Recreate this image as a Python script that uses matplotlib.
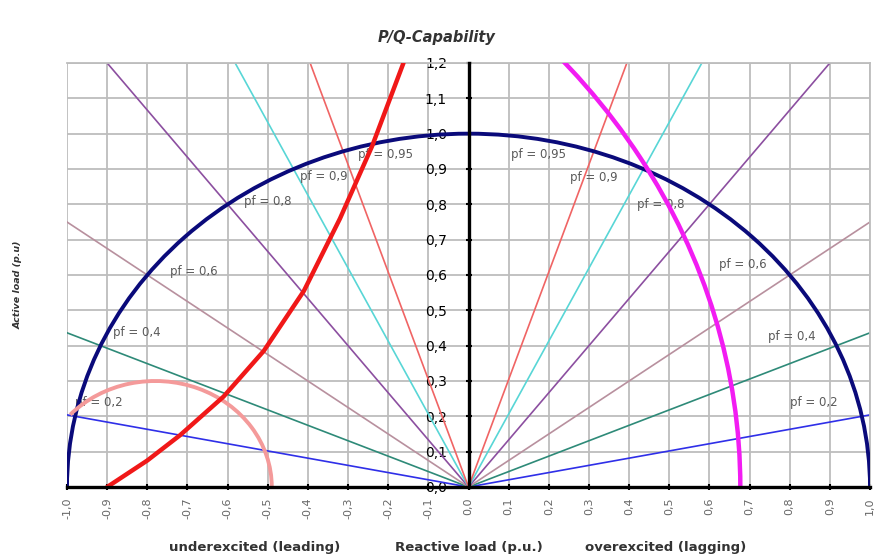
import numpy as np
import matplotlib
matplotlib.use("Agg")
import matplotlib.pyplot as plt
from matplotlib.patches import Arc

plt.rcParams['font.family'] = ['DejaVu Sans']

# power-factor lines (one on each side of the P axis)
pf_values = [0.2, 0.4, 0.6, 0.8, 0.9, 0.95]
pf_colors = ['#2f2fe8', '#2e8a78', '#b8909e', '#8c4fa0', '#58d6d6', '#f06464']
pf_texts = ['pf = 0,2', 'pf = 0,4', 'pf = 0,6', 'pf = 0,8', 'pf = 0,9', 'pf = 0,95']
# label anchors (Q, P) for the underexcited and overexcited side
pf_label_left = [(-0.98, 0.24), (-0.885, 0.436), (-0.743, 0.609), (-0.56, 0.807), (-0.42, 0.878), (-0.274, 0.94)]
pf_label_right = [(0.80, 0.24), (0.745, 0.425), (0.623, 0.629), (0.42, 0.80), (0.254, 0.875), (0.105, 0.94)]

# stator current limit (rated apparent power)
stator_radius = 1.0
# rotor (field) current limit, circle centred on the Q axis
rotor_center_q = -1.19
rotor_radius = 1.867
# minimum excitation limit
minexc_center_q = -0.78
minexc_width = 0.58
minexc_height = 0.60
minexc_end_deg = 136
# practical stability limit
stab_q = [-0.90, -0.80, -0.718, -0.61, -0.51, -0.41, -0.32, -0.24, -0.162]
stab_p = [0.0, 0.075, 0.147, 0.256, 0.385, 0.555, 0.76, 0.965, 1.2]

q_ticks = np.round(np.arange(-10, 11) / 10, 1)
p_ticks = np.round(np.arange(0, 13) / 10, 1)
q_ticklabels = [f"{v:.1f}".replace('.', ',').replace('-0,0', '0,0') for v in q_ticks]
p_ticklabels = [f"{v:.1f}".replace('.', ',') for v in p_ticks]

fig = plt.figure(figsize=(8.76, 5.58), dpi=100)
ax = fig.add_axes([67 / 876, 1 - 487 / 558, (870 - 67) / 876, (487 - 63) / 558])
ax.set_xlim(-1.0, 1.0)
ax.set_ylim(0.0, 1.2)

ax.set_xticks(q_ticks)
ax.set_xticklabels(q_ticklabels, rotation=90, fontsize=8, color='#666666')
ax.set_yticks(p_ticks)
ax.set_yticklabels(p_ticklabels, fontsize=7.5, color='#666666')
ax.grid(True, color='#bdbdbd', linewidth=1.3, zorder=0)
ax.set_axisbelow(True)

ax.spines['left'].set_position(('data', 0))
ax.spines['left'].set_linewidth(2.4)
ax.spines['left'].set_zorder(6)
ax.spines['bottom'].set_linewidth(2.4)
ax.spines['bottom'].set_zorder(6)
for s in ('top', 'right'):
    ax.spines[s].set_color('#bdbdbd')
    ax.spines[s].set_linewidth(1.3)
ax.tick_params(axis='x', direction='inout', length=5, width=1.5, pad=5)
ax.tick_params(axis='y', direction='inout', length=5, width=1.5, pad=13)

# power-factor rays from the origin
for pf, col in zip(pf_values, pf_colors):
    slope = pf / np.sqrt(1 - pf ** 2)
    for side in (-1, 1):
        ax.plot([0, side * 3], [0, 3 * slope], color=col, linewidth=1.2, zorder=2)

for txt, (ql, pl), (qr, pr) in zip(pf_texts, pf_label_left, pf_label_right):
    ax.text(ql, pl, txt, fontsize=8.5, color='#5a5a5a', va='center', ha='left', zorder=3)
    ax.text(qr, pr, txt, fontsize=8.5, color='#5a5a5a', va='center', ha='left', zorder=3)

ax.add_patch(Arc((0, 0), 2 * stator_radius, 2 * stator_radius, theta1=0, theta2=180,
                 color='#0a0a7a', linewidth=2.8, zorder=4))
ax.add_patch(Arc((minexc_center_q, 0), minexc_width, minexc_height, theta1=0, theta2=minexc_end_deg,
                 color='#f49a9a', linewidth=2.8, zorder=4))
ax.plot(stab_q, stab_p, color='#f01818', linewidth=3.2, solid_capstyle='round',
        solid_joinstyle='round', zorder=5)
ax.add_patch(Arc((rotor_center_q, 0), 2 * rotor_radius, 2 * rotor_radius, theta1=0, theta2=60,
                 color='#f21cf2', linewidth=3.2, zorder=5))

fig.text(0.499, 0.932, 'P/Q-Capability', ha='center', va='center', fontsize=10.5,
         fontweight='bold', fontstyle='italic', color='#333333')
fig.text(0.0205, 0.489, 'Active load (p.u)', ha='center', va='center', rotation=90,
         fontsize=6.8, fontweight='bold', fontstyle='italic', color='#333333')
fig.text(255 / 876, 0.018, 'underexcited (leading)', ha='center', va='center', fontsize=9.5,
         fontweight='bold', color='#333333')
fig.text(469 / 876, 0.018, 'Reactive load (p.u.)', ha='center', va='center', fontsize=9.5,
         fontweight='bold', color='#333333')
fig.text(666 / 876, 0.018, 'overexcited (lagging)', ha='center', va='center', fontsize=9.5,
         fontweight='bold', color='#333333')

fig.savefig('out.png', dpi=100)
